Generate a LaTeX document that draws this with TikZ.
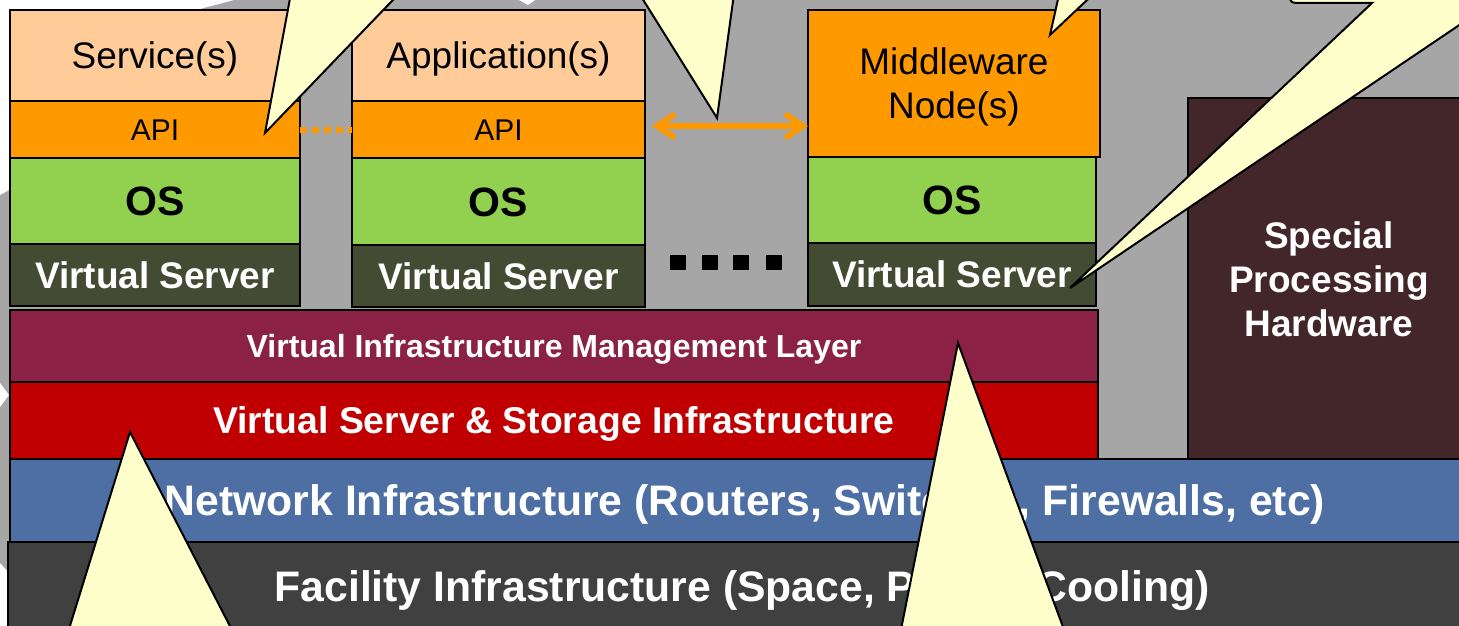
\documentclass[tikz,border=0pt]{standalone}
\usepackage{fontspec}
\setmainfont{Liberation Sans}
\usetikzlibrary{arrows.meta}
\definecolor{bggray}{HTML}{A6A6A6}
\definecolor{peach}{HTML}{FFCC99}
\definecolor{orng}{HTML}{FF9900}
\definecolor{osgreen}{HTML}{92D050}
\definecolor{vsdark}{HTML}{434B32}
\definecolor{mgmtc}{HTML}{8B2246}
\definecolor{vsred}{HTML}{C00000}
\definecolor{netblue}{HTML}{4D6FA3}
\definecolor{facgray}{HTML}{404040}
\definecolor{specialc}{HTML}{42262A}
\definecolor{calloutc}{HTML}{FFFFCC}
\begin{document}
\begin{tikzpicture}[x=1pt,y=-1pt,
  box/.style={draw=black, line width=2pt, inner sep=0pt, outer sep=0pt, align=center},
  apptext/.style={font=\fontsize{37}{45}\selectfont, text=black, text height=26.6pt, text depth=0pt},
  apitext/.style={font=\fontsize{30}{36}\selectfont, text=black, text height=21.6pt, text depth=0pt},
  ostext/.style={font=\fontsize{41}{48}\selectfont\bfseries, text=black, text height=29.5pt, text depth=0pt},
  vstext/.style={font=\fontsize{37}{44}\selectfont\bfseries, text=white, text height=26.6pt, text depth=0pt},
  layertext/.style={font=\fontsize{37.3}{46}\selectfont\bfseries, text=white, text height=26.9pt, text depth=0pt},
  mgmttext/.style={font=\fontsize{32}{38}\selectfont\bfseries, text=white, text height=23pt, text depth=0pt},
  bigtext/.style={font=\fontsize{42.7}{50}\selectfont\bfseries, text=white, text height=30.7pt, text depth=0pt},
  calloutshape/.style={fill=calloutc, draw=black, line width=2pt, line join=miter},
  dotbox/.style={fill=black, minimum width=16pt, minimum height=15pt, inner sep=0pt},
]
\useasboundingbox (0,0) rectangle (1459,626);
\clip (0,0) rectangle (1459,626);
% background
\fill[bggray] (0,0) rectangle (1459,626);
\fill[white] (0,0) -- (234,0) -- (200,9) -- (9,9) -- (9,190) -- (0,195) -- cycle;
\fill[white] (0,383) -- (9,395) -- (0,407) -- cycle;
\fill[white] (0,563) -- (9,573) -- (9,626) -- (0,626) -- cycle;
\fill[white] (519,0) -- (535,0) -- (528,5) -- cycle;

% column 1
\node[box, fill=peach, apptext, minimum width=290pt, minimum height=91pt] (svc) at (155,55.5) {Service(s)};
\node[box, fill=orng, apitext, minimum width=290pt, minimum height=57pt] (api1) at (155,129.5) {API};
\node[box, fill=osgreen, ostext, minimum width=290pt, minimum height=86pt] (os1) at (155,201) {OS};
\node[box, fill=vsdark, vstext, minimum width=290pt, minimum height=62pt] (vs1) at (155,275) {Virtual Server};
% column 2
\node[box, fill=peach, apptext, minimum width=293pt, minimum height=91pt] (app) at (498.5,55.5) {Application(s)};
\node[box, fill=orng, apitext, minimum width=293pt, minimum height=57pt] (api2) at (498.5,129.5) {API};
\node[box, fill=osgreen, ostext, minimum width=293pt, minimum height=87pt] (os2) at (498.5,201.5) {OS};
\node[box, fill=vsdark, vstext, minimum width=293pt, minimum height=62pt] (vs2) at (498.5,276) {Virtual Server};
% column 3
\node[box, fill=orng, font=\fontsize{37}{45}\selectfont, text=black, minimum width=292pt, minimum height=147pt] (mw) at (954,83.5) {\raisebox{-4pt}[\height][\depth]{\begin{tabular}{@{}c@{}}Middleware\\Node(s)\end{tabular}}};
\node[box, fill=osgreen, ostext, minimum width=288pt, minimum height=86pt] (os3) at (952,200) {OS};
\node[box, fill=vsdark, vstext, minimum width=288pt, minimum height=63pt] (vs3) at (952,274.5) {Virtual Server};
% layers
\node[box, fill=mgmtc, mgmttext, minimum width=1088pt, minimum height=72pt] (mgmt) at (554,346) {Virtual Infrastructure Management Layer};
\node[box, fill=vsred, layertext, minimum width=1088pt, minimum height=77pt] (vss) at (554,420.5) {Virtual Server \& Storage Infrastructure};
\node[box, fill=specialc, font=\fontsize{37}{44}\selectfont\bfseries, text=white, minimum width=282pt, minimum height=362pt] (spec) at (1329,279) {Special\\Processing\\Hardware};
\node[box, fill=netblue, bigtext, minimum width=1470pt, minimum height=83pt] (net) at (745,500.5) {Network Infrastructure (Routers, Switches, Firewalls, etc)};
\node[box, fill=facgray, bigtext, minimum width=1468pt, minimum height=88pt] (fac) at (742,586) {Facility Infrastructure (Space, Power, Cooling)};

% dots
\node[dotbox] (d1) at (678,262.5) {};
\node[dotbox] (d2) at (710,262.5) {};
\node[dotbox] (d3) at (741,262.5) {};
\node[dotbox] (d4) at (774,262.5) {};

% connectors
\draw[orng, line width=6pt, dash pattern=on 7pt off 5pt] (api1.east) -- (api2.west);
\coordinate (arrL) at ([xshift=7pt,yshift=3.5pt]api2.east);
\coordinate (arrR) at (arrL -| mw.west);
\draw[orng, line width=5.5pt, {Straight Barb[length=18pt,width=24pt]}-{Straight Barb[length=18pt,width=24pt]}] (arrL) -- (arrR);

% callouts
\draw[calloutshape] (265,133) -- (299,-50) -- (441,-50) -- cycle;
\draw[calloutshape] (717,118) -- (612,-50) -- (740,-50) -- cycle;
\draw[calloutshape] (1050,35) -- (1069,-50) -- (1140,-50) -- cycle;
\draw[calloutshape] (1600,-60) -- (1290,-60) -- (1290,-9) .. controls (1290,3) .. (1302,3) -- (1372,3) -- (1070,288) -- (1600,-70) -- cycle;
\draw[calloutshape] (130,432) -- (47,700) -- (268,700) -- cycle;
\draw[calloutshape] (958,343) -- (887,700) -- (1090,700) -- cycle;
\end{tikzpicture}
\end{document}
